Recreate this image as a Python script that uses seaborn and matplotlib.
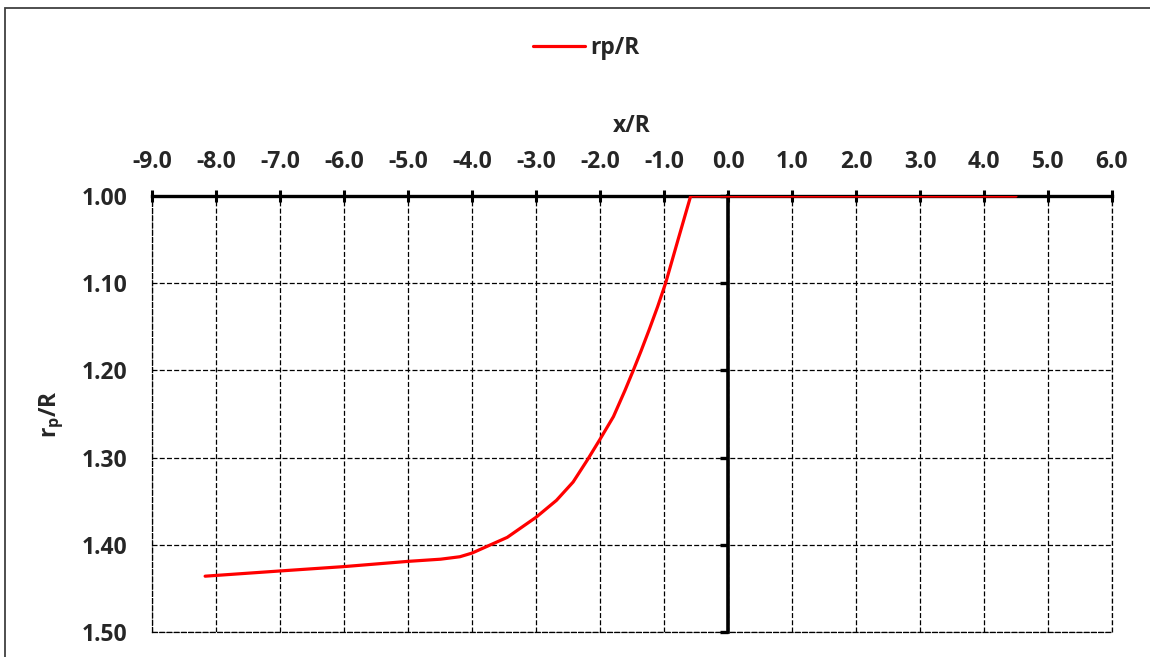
import matplotlib
matplotlib.use("Agg")
import matplotlib.pyplot as plt
import seaborn as sns
import pandas as pd
from matplotlib.patches import Rectangle

# Plastic-zone radius profile along the tunnel axis
x_over_R = [-8.17, -7.0, -6.0, -5.0, -4.49, -4.19, -4.0, -3.71, -3.45, -3.0,
            -2.68, -2.42, -2.2, -2.0, -1.79, -1.61, -1.48, -1.36, -1.23,
            -1.10, -0.975, -0.78, -0.583, 0.0, 4.5]
rp_over_R = [1.436, 1.430, 1.425, 1.419, 1.4165, 1.4137, 1.4095, 1.400, 1.3915,
             1.3685, 1.349, 1.328, 1.303, 1.279, 1.253, 1.223, 1.200, 1.178,
             1.153, 1.127, 1.100, 1.050, 1.000, 1.000, 1.000]

x_ticks = [-9.0, -8.0, -7.0, -6.0, -5.0, -4.0, -3.0, -2.0, -1.0,
           0.0, 1.0, 2.0, 3.0, 4.0, 5.0, 6.0]
y_ticks = [1.00, 1.10, 1.20, 1.30, 1.40, 1.50]

series_name = "rp/R"

df = pd.DataFrame({"x/R": x_over_R, series_name: rp_over_R})

sns.set_style("white")
plt.rcParams["font.family"] = ["Open Sans", "DejaVu Sans"]
plt.rcParams["font.weight"] = "bold"
plt.rcParams["mathtext.fontset"] = "custom"
plt.rcParams["mathtext.rm"] = "Open Sans:bold"
plt.rcParams["mathtext.it"] = "Open Sans:bold"
plt.rcParams["mathtext.bf"] = "Open Sans:bold"
plt.rcParams["lines.scale_dashes"] = False

FS = 16.5

fig = plt.figure(figsize=(11.5, 6.57), dpi=100)
ax = fig.add_axes([152 / 1150, 1 - 632 / 657, 960 / 1150, 436 / 657])

sns.lineplot(data=df, x="x/R", y=series_name, ax=ax, color="#ff0000",
             linewidth=2.3, sort=False, estimator=None, label=series_name,
             zorder=5)

ax.set_xlim(-9, 6)
ax.set_ylim(1.5, 1.0)
ax.set_xticks(x_ticks)
ax.set_yticks(y_ticks)
ax.set_xticklabels([f"{v:.1f}" for v in x_ticks])
ax.set_yticklabels([f"{v:.2f}" for v in y_ticks])

dash = (0, (3.6, 1.6))

# dashed grid, with the outer frame lines dashed as well
ax.grid(True, color="black", linewidth=0.9, linestyle=dash)
ax.set_axisbelow(True)
for side in ("left", "bottom"):
    ax.spines[side].set_visible(True)
    ax.spines[side].set_color("black")
    ax.spines[side].set_linewidth(0.9)
    ax.spines[side].set_linestyle(dash)
ax.axvline(6, color="black", linewidth=0.9, linestyle=dash, clip_on=False)

# x axis along the top at r/R = 1.00
ax.xaxis.set_ticks_position("top")
ax.xaxis.set_label_position("top")
ax.spines["top"].set_linewidth(2.4)
ax.spines["top"].set_color("black")
ax.spines["top"].set_zorder(4)
ax.tick_params(axis="x", which="both", top=True, bottom=False, direction="inout",
               length=9, width=2.2, color="black", labelsize=FS, pad=11)

# vertical axis line drawn through x/R = 0
ax.spines["right"].set_position(("data", 0))
ax.spines["right"].set_linewidth(2.6)
ax.spines["right"].set_color("black")
ax.spines["right"].set_zorder(4)
ax.tick_params(axis="y", which="both", left=False, right=True, labelleft=True,
               labelright=False, direction="in", length=6, width=2.4,
               color="black", labelsize=FS, pad=18)

ax.set_xlabel("x/R", fontsize=FS, fontweight="bold", labelpad=13)
ax.set_ylabel(r"$\mathregular{r_p/R}$", fontsize=FS, fontweight="bold")
ax.yaxis.set_label_coords(66 / 1150, 1 - 414 / 657, transform=fig.transFigure)

leg = ax.legend(loc="center", bbox_to_anchor=(586 / 1150, 1 - 48 / 657),
                bbox_transform=fig.transFigure, frameon=False, fontsize=FS,
                handlelength=2.3, handletextpad=0.2)
for line in leg.get_lines():
    line.set_linewidth(2.3)

# chart frame
fig.patches.append(Rectangle((5 / 1150, -0.05), 1.2, 1 - 8 / 657 + 0.05,
                             transform=fig.transFigure, fill=False,
                             edgecolor="#404040", linewidth=1.3, zorder=10))

fig.savefig("out.png", dpi=100)
